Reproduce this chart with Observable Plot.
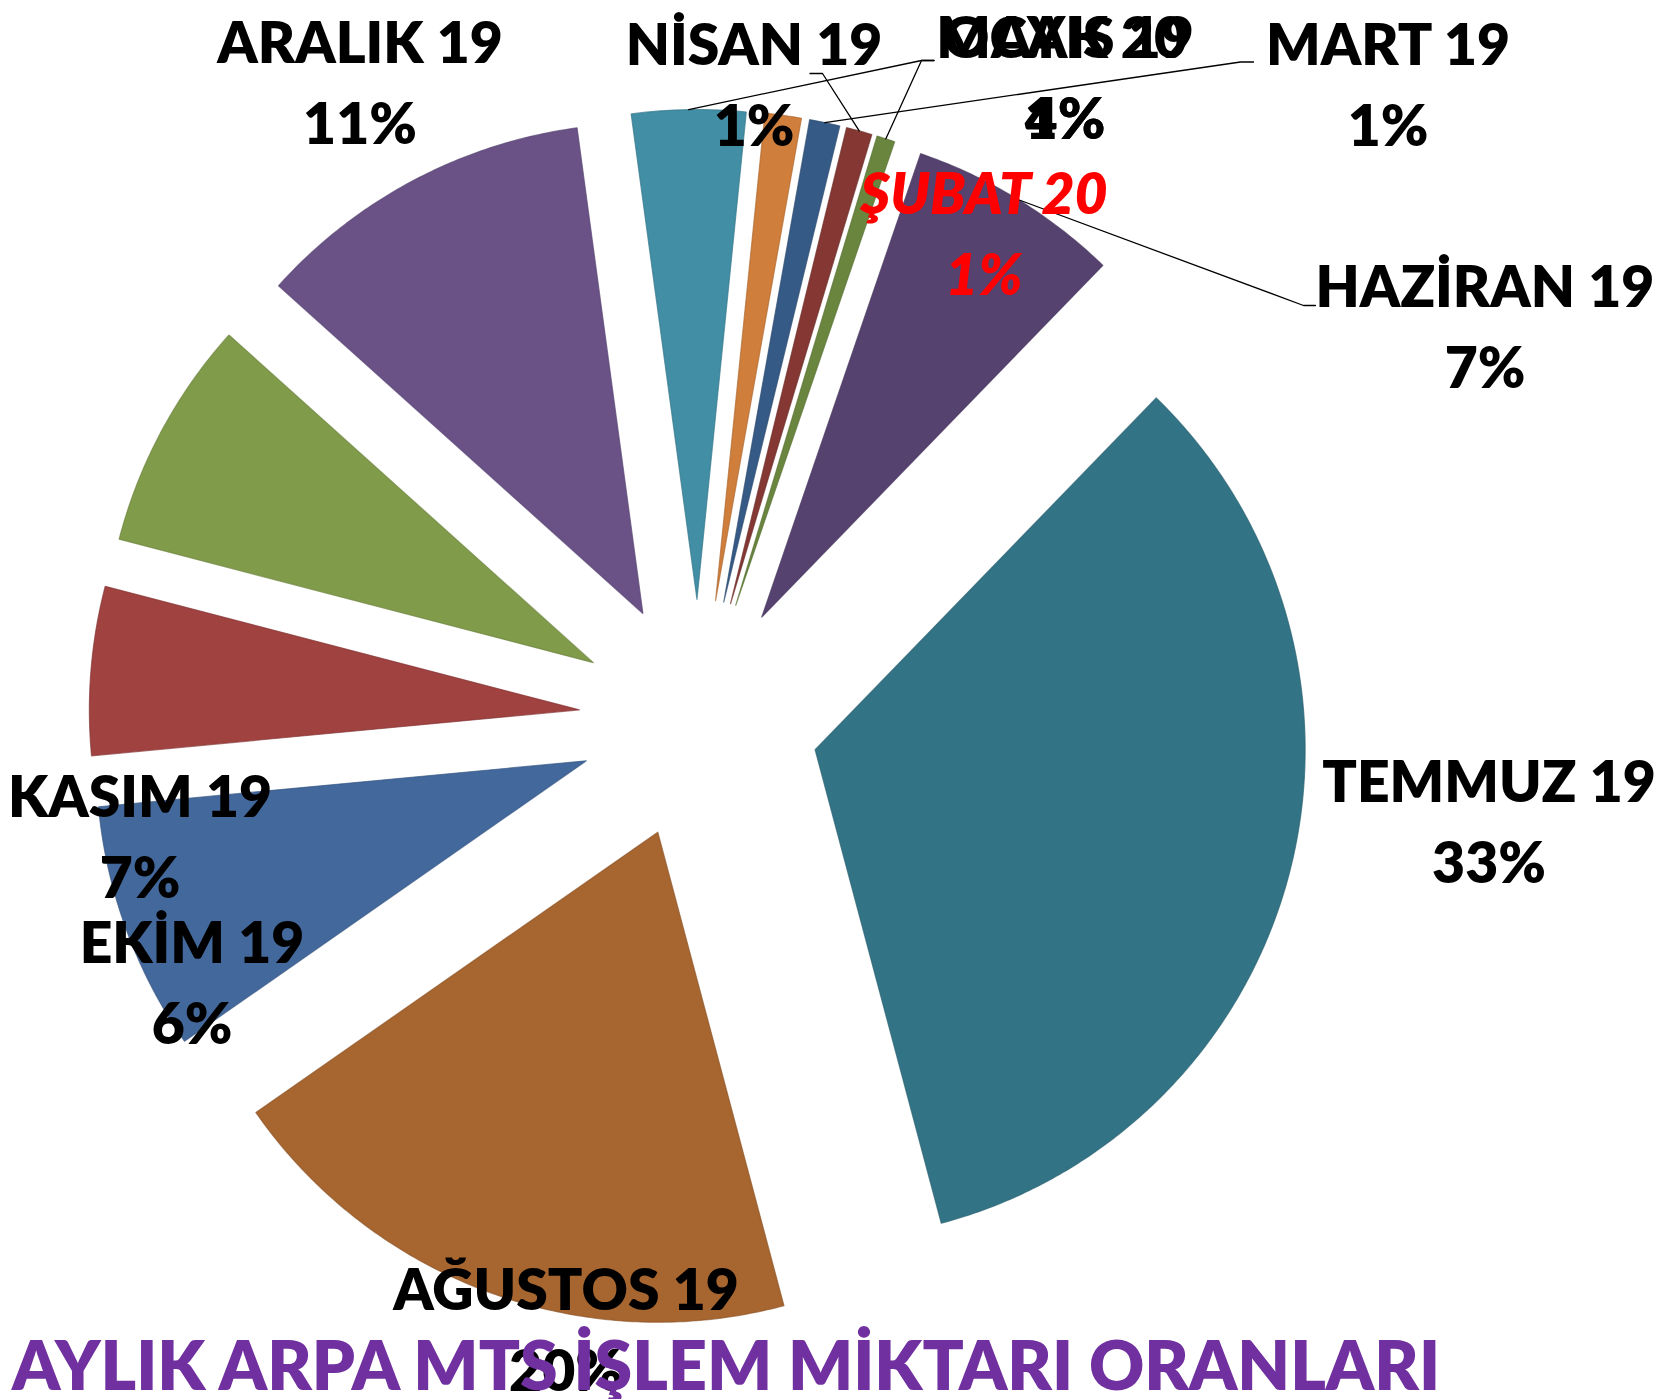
<!DOCTYPE html>
<html>
<head>
<meta charset="utf-8">
<script src="https://cdn.jsdelivr.net/npm/d3@7"></script>
<script src="https://cdn.jsdelivr.net/npm/@observablehq/plot@0.6"></script>
<style>
  html, body { margin: 0; padding: 0; background: #ffffff; }
  #wrap { position: relative; width: 1664px; height: 1399px; overflow: hidden; }
  #title {
    position: absolute; left: 12px; top: 1324px; margin: 0;
    font-family: Lato, "Open Sans", sans-serif; font-weight: 800; font-size: 68px;
    line-height: 80px; color: #7030A0; white-space: nowrap;
  }
</style>
</head>
<body>
<div id="wrap">
  <div id="chart"></div>
  <h1 id="title">AYLIK ARPA MTS İŞLEM MİKTARI ORANLARI</h1>
</div>
<script>
// ---- data ----
const months = ["EYLÜL 19", "EKİM 19", "KASIM 19", "ARALIK 19", "OCAK 20", "ŞUBAT 20",
                "MART 19", "NİSAN 19", "MAYIS 19", "HAZİRAN 19", "TEMMUZ 19", "AĞUSTOS 19"];
const shares = [8.2, 5.55, 7.6, 11.2, 3.75, 1.2, 1.0, 0.85, 0.6, 7.0, 33.6, 19.45];
const pctLabels = ["8%", "6%", "7%", "11%", "4%", "1%", "1%", "1%", "1%", "7%", "33%", "20%"];
const sliceColors = ["#43689C", "#A04240", "#809B4A", "#6A5287", "#418EA5", "#CF7E3B",
                     "#365A86", "#843733", "#6A863E", "#56426F", "#327486", "#A7652F"];

// ---- layout (pixels relative to the pie centre) ----
const center = {x: 698.5, y: 719};
const R = 490, explode = 120, startAngle = 145.1; // degrees clockwise from 3 o'clock
// anchor = centre of the percent line's baseline; null = label not shown
const labelAnchor = [null, [-507, 324], [-559, 178], [-339, -576], [366, -581], [285, -425],
                     [689, -574], [55, -574], [366, -581], [786, -332], [790, 163], [-133, 671]];
const leaderBends = {
  "OCAK 20": [[222.5, -659], [235, -659]],
  "MAYIS 19": [[222.5, -659], [235, -659]],
  "NİSAN 19": [[123.5, -646], [111, -646]],
  "MART 19": [[541.5, -657.5], [554.5, -657.5]],
  "HAZİRAN 19": [[604.5, -414], [616.5, -414]]
};
const rad = Math.PI / 180;

// ---- slices ----
const total = d3.sum(shares);
let acc = startAngle;
const slices = months.map((m, i) => {
  const a0 = acc, a1 = acc + shares[i] / total * 360;
  acc = a1;
  return {name: m, a0, a1, mid: (a0 + a1) / 2, color: sliceColors[i], pct: pctLabels[i], anchor: labelAnchor[i]};
});

const slicePts = slices.flatMap(s => {
  const ox = explode * Math.cos(s.mid * rad), oy = explode * Math.sin(s.mid * rad);
  const n = Math.max(2, Math.ceil((s.a1 - s.a0) / 0.5));
  const stroke = d3.color(s.color).darker(0.45).formatHex();
  const pts = [{name: s.name, x: ox, y: oy, fill: s.color, stroke}];
  for (let k = 0; k <= n; k++) {
    const a = (s.a0 + (s.a1 - s.a0) * k / n) * rad;
    pts.push({name: s.name, x: ox + R * Math.cos(a), y: oy + R * Math.sin(a), fill: s.color, stroke});
  }
  return pts;
});

const leaderPts = slices.filter(s => leaderBends[s.name]).flatMap(s => {
  const r = explode + R;
  const start = {id: s.name, x: r * Math.cos(s.mid * rad), y: r * Math.sin(s.mid * rad)};
  return [start, ...leaderBends[s.name].map(([x, y]) => ({id: s.name, x, y}))];
});

const labelRows = slices.filter(s => s.anchor).map(s => ({
  text: s.name + "\n" + s.pct, x: s.anchor[0], y: s.anchor[1], name: s.name
}));
const normalLabels = labelRows.filter(d => d.name !== "ŞUBAT 20");
const redLabels = labelRows.filter(d => d.name === "ŞUBAT 20");

const textOpts = {
  x: "x", y: "y", text: "text", textAnchor: "middle", lineAnchor: "bottom",
  fontSize: 57, lineHeight: 80.5 / 57, fontWeight: 800, fontFamily: "Lato, 'Open Sans', sans-serif"
};

const chart = Plot.plot({
  width: 1664, height: 1399, margin: 0,
  x: {domain: [-center.x, 1664 - center.x], range: [0, 1664], axis: null},
  y: {domain: [-center.y, 1399 - center.y], range: [0, 1399], axis: null},
  color: {type: "identity"},
  style: {background: "#ffffff"},
  marks: [
    Plot.line(slicePts, {x: "x", y: "y", z: "name", fill: "fill", stroke: "stroke",
                         strokeWidth: 1.2, strokeOpacity: 0.7, curve: "linear-closed"}),
    Plot.line(leaderPts, {x: "x", y: "y", z: "id", stroke: "#000000", strokeWidth: 1.3}),
    Plot.text(normalLabels, {...textOpts, fill: "#000000"}),
    Plot.text(redLabels, {...textOpts, fill: "#FF0000", fontStyle: "italic"})
  ]
});
document.getElementById("chart").appendChild(chart);
</script>
</body>
</html>
